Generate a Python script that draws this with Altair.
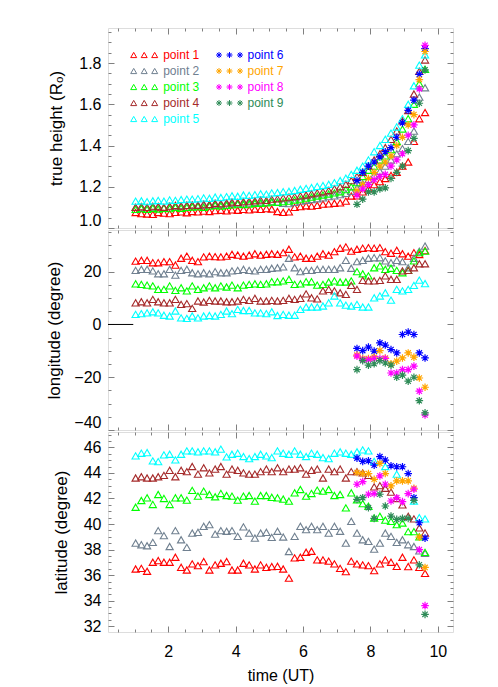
import altair as alt
import pandas as pd

# ---------------- data ----------------
SERIES_TRI = ["point 1", "point 2", "point 3", "point 4", "point 5"]
SERIES_STAR = ["point 6", "point 7", "point 8", "point 9"]
COLORS_TRI = ["#ff0000", "#708090", "#00ff00", "#a52a2a", "#00ffff"]
COLORS_STAR = ["#0000ff", "#ffa500", "#ff00ff", "#2e8b57"]

TIMES = [1.03, 1.20, 1.37, 1.54, 1.70, 1.87, 2.04, 2.21, 2.38, 2.55,
         2.71, 2.88, 3.05, 3.22, 3.39, 3.56, 3.73, 3.89, 4.06, 4.23,
         4.40, 4.57, 4.74, 4.91, 5.07, 5.24, 5.41, 5.58, 5.75, 5.92,
         6.09, 6.25, 6.42, 6.59, 6.76, 6.93, 7.10, 7.27, 7.43, 7.60,
         7.77, 7.94, 8.11, 8.28, 8.44, 8.61, 8.78, 8.95, 9.12, 9.29,
         9.45, 9.62]
STAR_TIMES = [7.60, 7.77, 7.94, 8.11, 8.28, 8.44, 8.61, 8.78, 8.95, 9.12,
              9.29, 9.45, 9.62]

# true height (R_sun)
HEIGHT_P1 = [1.075, 1.070, 1.068, 1.066, 1.075, 1.072, 1.070, 1.076, 1.078, 1.074,
             1.080, 1.078, 1.082, 1.080, 1.084, 1.086, 1.083, 1.088, 1.086, 1.090,
             1.088, 1.092, 1.090, 1.094, 1.092, 1.080, 1.076, 1.078, 1.100, 1.104,
             1.108, 1.106, 1.110, 1.116, 1.117, 1.120, 1.122, 1.130, 1.155, 1.156,
             1.175, 1.190, 1.210, 1.225, 1.240, 1.255, 1.270, 1.300, 1.320, 1.420,
             1.530, 1.560]
HEIGHT_P2 = [1.100, 1.098, 1.100, 1.102, 1.104, 1.100, 1.104, 1.106, 1.108, 1.110,
             1.110, 1.112, 1.110, 1.114, 1.116, 1.114, 1.118, 1.120, 1.118, 1.122,
             1.122, 1.124, 1.126, 1.124, 1.128, 1.126, 1.120, 1.118, 1.124, 1.130,
             1.134, 1.138, 1.142, 1.146, 1.152, 1.156, 1.162, 1.168, 1.178, 1.195,
             1.215, 1.235, 1.255, 1.275, 1.300, 1.330, 1.360, 1.385, 1.420, 1.470,
             1.635, 1.680]
HEIGHT_P3 = [1.090, 1.094, 1.090, 1.096, 1.092, 1.096, 1.094, 1.100, 1.096, 1.100,
             1.102, 1.104, 1.100, 1.106, 1.110, 1.106, 1.110, 1.112, 1.116, 1.114,
             1.116, 1.120, 1.120, 1.122, 1.126, 1.124, 1.128, 1.130, 1.136, 1.140,
             1.145, 1.150, 1.155, 1.160, 1.165, 1.170, 1.176, 1.186, 1.200, 1.220,
             1.250, 1.280, 1.300, 1.330, 1.350, 1.380, 1.420, 1.480, 1.530, 1.600,
             1.700, 1.770]
HEIGHT_P4 = [1.100, 1.104, 1.100, 1.106, 1.104, 1.100, 1.106, 1.110, 1.106, 1.110,
             1.112, 1.110, 1.116, 1.114, 1.120, 1.118, 1.122, 1.126, 1.124, 1.128,
             1.130, 1.132, 1.136, 1.134, 1.140, 1.142, 1.146, 1.150, 1.152, 1.156,
             1.160, 1.166, 1.170, 1.176, 1.182, 1.190, 1.200, 1.212, 1.230, 1.250,
             1.270, 1.300, 1.330, 1.360, 1.390, 1.430, 1.470, 1.520, 1.570, 1.650,
             1.760, 1.815]
HEIGHT_P5 = [1.130, 1.132, 1.128, 1.132, 1.134, 1.130, 1.136, 1.134, 1.138, 1.140,
             1.140, 1.142, 1.146, 1.144, 1.150, 1.148, 1.152, 1.156, 1.154, 1.160,
             1.158, 1.162, 1.166, 1.164, 1.170, 1.172, 1.176, 1.178, 1.182, 1.188,
             1.192, 1.196, 1.202, 1.206, 1.212, 1.220, 1.230, 1.242, 1.260, 1.280,
             1.300, 1.330, 1.370, 1.400, 1.430, 1.460, 1.490, 1.530, 1.600, 1.690,
             1.790, 1.840]
HEIGHT_P6 = [1.230, 1.270, 1.300, 1.320, 1.345, 1.370, 1.390, 1.440, 1.510, 1.570, 1.620, 1.745, 1.870]
HEIGHT_P7 = [1.180, 1.210, 1.240, 1.270, 1.300, 1.320, 1.350, 1.400, 1.440, 1.500, 1.550, 1.720, 1.856]
HEIGHT_P8 = [1.160, 1.190, 1.210, 1.235, 1.250, 1.260, 1.300, 1.330, 1.360, 1.450, 1.500, 1.675, 1.886]
HEIGHT_P9 = [1.115, 1.140, 1.175, 1.175, 1.190, 1.195, 1.240, 1.270, 1.300, 1.375, 1.435, 1.605, 1.767]

# longitude (degree)
LON_P1 = [24.0, 24.3, 24.3, 23.4, 23.4, 23.8, 23.8, 22.5, 25.1, 25.9,
          24.3, 23.8, 25.6, 25.9, 25.7, 25.6, 25.9, 26.6, 26.3, 25.9,
          26.3, 26.8, 26.3, 26.6, 26.8, 26.6, 27.2, 28.5, 25.6, 25.9,
          25.1, 25.1, 25.9, 26.8, 26.3, 27.6, 28.9, 29.4, 27.8, 28.5,
          28.9, 29.1, 28.9, 29.1, 27.6, 27.0, 28.1, 26.8, 25.9, 27.2,
          26.5, 28.0]
LON_P2 = [20.5, 20.9, 20.9, 20.3, 19.2, 19.2, 20.9, 18.7, 20.5, 20.9,
          19.6, 19.2, 19.6, 19.2, 20.0, 19.6, 19.6, 20.3, 20.5, 20.9,
          20.5, 20.3, 20.9, 20.9, 21.3, 21.5, 21.8, 25.1, 21.5, 20.0,
          20.5, 20.5, 20.9, 20.9, 20.9, 20.9, 21.5, 24.3, 21.3, 23.8,
          24.3, 25.1, 25.3, 25.3, 24.1, 23.4, 24.3, 23.8, 21.5, 25.1,
          27.8, 29.7]
LON_P3 = [15.4, 15.2, 14.9, 14.6, 13.3, 13.3, 14.6, 12.9, 13.9, 12.7,
          14.6, 13.3, 13.9, 14.6, 13.9, 14.6, 14.2, 14.9, 13.9, 14.9,
          15.2, 15.4, 15.2, 15.4, 16.2, 16.2, 16.5, 17.1, 15.2, 15.4,
          16.2, 16.2, 14.9, 15.2, 16.1, 16.5, 16.1, 16.1, 16.5, 20.0,
          19.2, 18.4, 21.5, 22.2, 20.9, 21.3, 20.5, 19.6, 20.5, 24.1,
          27.2, 27.8]
LON_P4 = [8.2, 8.6, 8.2, 9.5, 8.6, 8.2, 8.2, 9.5, 7.6, 7.9,
          6.1, 8.9, 8.5, 9.1, 8.9, 8.9, 8.6, 8.6, 8.9, 9.5,
          9.1, 9.9, 8.9, 8.9, 9.1, 8.9, 9.1, 9.9, 9.5, 9.9,
          11.6, 10.1, 9.7, 12.7, 13.3, 12.7, 12.0, 11.4, 14.8, 13.3,
          16.7, 16.5, 16.5, 16.7, 18.4, 17.1, 17.1, 20.3, 20.5, 21.5,
          23.0, 23.0]
LON_P5 = [3.8, 4.1, 4.4, 4.8, 4.4, 3.5, 3.2, 5.1, 2.5, 2.3,
          3.2, 2.5, 3.2, 3.4, 3.2, 3.8, 5.1, 4.1, 5.7, 5.3,
          5.3, 4.4, 4.4, 4.1, 4.8, 3.4, 3.8, 3.5, 3.5, 5.7,
          6.6, 6.6, 6.6, 7.0, 8.2, 10.8, 8.2, 7.3, 7.0, 7.6,
          6.6, 6.6, 10.1, 10.8, 12.0, 9.2, 13.3, 12.7, 13.3, 14.8,
          16.8, 15.5]
LON_P6 = [-9.1, -9.9, -8.6, -10.1, -7.0, -7.8, -9.5, -10.8, -3.8, -2.9, -3.8, -10.8, -12.7]
LON_P7 = [-11.6, -12.9, -12.9, -12.4, -9.9, -12.7, -14.9, -13.9, -12.7, -10.8, -12.4, -20.3, -23.8]
LON_P8 = [-12.0, -13.3, -13.3, -12.9, -12.9, -12.9, -18.4, -18.4, -17.1, -17.1, -15.8, -25.3, -34.3]
LON_P9 = [-17.1, -13.7, -15.4, -14.9, -13.7, -14.6, -15.4, -20.0, -19.2, -21.5, -20.0, -28.9, -33.5]
ZERO_LINE_T = [0.21, 0.96]

# latitude (degree)
LAT_P1 = [36.48, 36.53, 36.30, 37.01, 37.14, 37.01, 37.01, 37.40, 36.61, 36.40,
          36.88, 36.74, 37.06, 36.40, 36.80, 36.93, 37.06, 36.40, 36.40, 36.93,
          36.80, 36.48, 36.80, 36.61, 36.67, 36.69, 36.48, 35.77, 37.35, 37.40,
          37.79, 37.87, 37.19, 37.19, 37.09, 36.88, 36.53, 36.27, 37.09, 36.88,
          36.80, 36.74, 36.35, 36.88, 37.19, 37.01, 36.69, 37.40, 36.67, 37.19,
          36.61, 36.14]
LAT_P2 = [38.51, 38.38, 38.30, 38.56, 39.48, 39.09, 38.24, 39.48, 38.77, 38.17,
          39.29, 39.35, 39.82, 39.95, 39.21, 39.48, 39.43, 39.48, 39.03, 39.77,
          39.29, 38.90, 39.29, 39.35, 38.95, 39.43, 38.98, 37.85, 39.03, 39.82,
          39.56, 39.82, 39.56, 39.82, 39.29, 39.82, 39.43, 38.51, 40.21, 39.29,
          38.77, 38.64, 38.03, 38.51, 39.29, 39.03, 38.56, 38.77, 38.38, 38.24,
          37.90, 37.70]
LAT_P3 = [41.31, 41.84, 42.05, 41.53, 42.31, 42.00, 41.53, 42.05, 42.05, 41.87,
          42.63, 42.18, 42.57, 42.31, 42.13, 42.39, 42.23, 42.18, 41.87, 42.18,
          42.23, 41.79, 42.23, 42.23, 42.09, 42.05, 41.95, 41.79, 42.44, 42.70,
          42.18, 42.39, 42.65, 42.57, 42.70, 42.23, 42.31, 41.26, 42.44, 41.90,
          41.60, 41.39, 40.47, 40.60, 40.30, 40.21, 39.95, 40.08, 39.40, 39.40,
          39.00, 37.78]
LAT_P4 = [43.6, 43.7, 43.6, 43.6, 43.7, 43.8, 44.2, 43.7, 44.2, 44.1,
          44.5, 43.9, 44.4, 44.0, 44.3, 44.5, 43.9, 44.3, 44.2, 44.0,
          43.9, 43.9, 44.1, 44.3, 44.1, 44.4, 44.1, 44.3, 44.3, 44.4,
          43.9, 44.2, 44.3, 43.6, 44.3, 44.1, 44.3, 43.6, 44.1, 44.1,
          44.0, 43.8, 42.9, 43.0, 42.8, 42.5, 42.0, 41.5, 40.6, 40.4,
          39.7, 39.3]
LAT_P5 = [45.33, 45.54, 45.59, 44.94, 44.88, 45.41, 45.46, 45.02, 45.46, 45.72,
          45.72, 45.65, 45.72, 45.72, 45.65, 45.86, 45.25, 45.46, 45.54, 45.28,
          45.12, 45.28, 45.46, 45.33, 45.20, 45.72, 45.54, 45.46, 45.72, 45.46,
          45.28, 45.54, 45.46, 45.20, 45.12, 45.54, 45.65, 45.54, 45.46, 45.65,
          45.80, 45.72, 44.90, None, 44.50, None, 43.90, None, None, 41.80,
          40.50, 40.40]
LAT_P6 = [45.16, 44.90, 44.95, 44.60, 45.27, 45.00, 44.56, 44.48, 44.48, 43.95, 42.06, 40.10, 38.90]
LAT_P7 = [44.03, 43.95, 43.95, 43.50, 44.74, 43.95, 42.98, 43.38, 43.38, 43.38, 42.80, 38.97, 36.60]
LAT_P8 = [43.11, 43.32, 42.33, 42.38, 43.77, 43.11, 41.80, 42.06, 41.75, 42.38, 42.72, 37.99, 33.61]
LAT_P9 = [41.93, 42.06, 41.28, 40.44, 42.33, 41.41, 40.62, 40.36, 40.44, 40.44, 41.85, 36.81, 32.93]

# axis tick values
X_TICKS = [0.5, 1.0, 1.5, 2.0, 2.5, 3.0, 3.5, 4.0, 4.5, 5.0,
           5.5, 6.0, 6.5, 7.0, 7.5, 8.0, 8.5, 9.0, 9.5, 10.0]
X_LABELS = [2, 4, 6, 8, 10]
H_TICKS = [1.0, 1.05, 1.1, 1.15, 1.2, 1.25, 1.3, 1.35, 1.4, 1.45,
           1.5, 1.55, 1.6, 1.65, 1.7, 1.75, 1.8, 1.85, 1.9, 1.95]
H_LABELS = [1.0, 1.2, 1.4, 1.6, 1.8]
LON_TICKS = [-40, -35, -30, -25, -20, -15, -10, -5, 0, 5, 10, 15, 20, 25, 30, 35]
LON_LABELS = [-40, -20, 0, 20]
LAT_TICKS = [32, 32.5, 33, 33.5, 34, 34.5, 35, 35.5, 36, 36.5, 37, 37.5, 38, 38.5,
             39, 39.5, 40, 40.5, 41, 41.5, 42, 42.5, 43, 43.5, 44, 44.5, 45, 45.5,
             46, 46.5, 47]
LAT_LABELS = [32, 34, 36, 38, 40, 42, 44, 46]

# ---------------- helpers ----------------
W, H = 345, 200
X_DOMAIN = [0.21, 10.45]
FONT = "Liberation Sans"
FRAME = "#808080"
STAR_PATH = "M-1,0L1,0M0,-1L0,1M-0.7,-0.7L0.7,0.7M-0.7,0.7L0.7,-0.7"


def tri3_path():
    parts = []
    for c in (-3.5, 0.0, 3.5):
        parts.append(f"M{c},-0.866L{c - 1},0.866L{c + 1},0.866Z")
    return "".join(parts)


def star3_path():
    parts = []
    for c in (-3.5, 0.0, 3.5):
        parts.append(f"M{c - 1},0L{c + 1},0M{c},-1L{c},1"
                     f"M{c - 0.7},-0.7L{c + 0.7},0.7M{c - 0.7},0.7L{c + 0.7},-0.7")
    return "".join(parts)


def long_frame(times, names, lists):
    rows = []
    for name, vals in zip(names, lists):
        for t, v in zip(times, vals):
            if v is not None:
                rows.append({"time": t, "value": v, "series": name})
    return pd.DataFrame(rows)


def color_expr(names, colors):
    c = ",".join(f"'{x}'" for x in colors)
    n = ",".join(f"'{x}'" for x in names)
    return f"[{c}][indexof([{n}], datum.value)]"


def tick_axis(orient, offset, values, test):
    return alt.Axis(orient=orient, offset=offset, values=values, labels=False,
                    domain=False, grid=False, ticks=True, title=None,
                    tickColor=FRAME, tickWidth=1, minExtent=0, maxExtent=0,
                    tickSize={"condition": {"test": test, "value": 6}, "value": 3})


def panel(df_tri, df_star, y_title, y_domain, y_labels, y_ticks, y_test, y_format,
          title_pad, bottom, legends, extra=None):
    xs = alt.Scale(domain=X_DOMAIN, nice=False, zero=False)
    ys = alt.Scale(domain=y_domain, nice=False, zero=False)
    if bottom:
        x_axis = alt.Axis(orient="bottom", title="time (UT)", values=X_LABELS, format="d",
                          ticks=False, tickSize=0, domain=False, grid=False,
                          labelPadding=11, titlePadding=8, labelFontSize=16,
                          titleFontSize=16, labelFont=FONT, titleFont=FONT,
                          titleFontWeight="normal", labelColor="black", titleColor="black")
    else:
        x_axis = None
    y_axis = alt.Axis(orient="left", title=y_title, values=y_labels, format=y_format,
                      ticks=False, tickSize=0, domain=False, grid=False, labelFlush=True,
                      labelPadding=7, titlePadding=title_pad, minExtent=30, maxExtent=30,
                      labelFontSize=16, titleFontSize=17, labelFont=FONT, titleFont=FONT,
                      titleFontWeight="normal", labelColor="black", titleColor="black")

    if legends:
        leg_tri = alt.Legend(title=None, orient="none", legendX=30.2, legendY=21,
                             symbolType=tri3_path(), symbolSize=36, symbolStrokeWidth=1,
                             labelFontSize=12, labelFont=FONT, labelOffset=13,
                             rowPadding=4, padding=0, direction="vertical",
                             labelColor=alt.ExprRef(expr=color_expr(SERIES_TRI, COLORS_TRI)))
        leg_star = alt.Legend(title=None, orient="none", legendX=115.5, legendY=21,
                              symbolType=star3_path(), symbolSize=36, symbolStrokeWidth=1,
                              labelFontSize=12, labelFont=FONT, labelOffset=12,
                              rowPadding=4, padding=0, direction="vertical",
                              labelColor=alt.ExprRef(expr=color_expr(SERIES_STAR, COLORS_STAR)))
    else:
        leg_tri = None
        leg_star = None

    tri = alt.Chart(df_tri).mark_point(shape="triangle-up", filled=False, size=52,
                                       strokeWidth=1.1, opacity=1).encode(
        x=alt.X("time:Q", scale=xs, axis=x_axis),
        y=alt.Y("value:Q", scale=ys, axis=y_axis),
        color=alt.Color("series:N", scale=alt.Scale(domain=SERIES_TRI, range=COLORS_TRI),
                        legend=leg_tri),
    )
    star = alt.Chart(df_star).mark_point(shape=STAR_PATH, filled=False, size=58,
                                         strokeWidth=1.2, opacity=1).encode(
        x=alt.X("time:Q", scale=xs, axis=None),
        y=alt.Y("value:Q", scale=ys, axis=None),
        color=alt.Color("series:N", scale=alt.Scale(domain=SERIES_STAR, range=COLORS_STAR),
                        legend=leg_star),
    )
    x_test = "abs(datum.value % 2) < 0.001"
    ticks_a = alt.Chart(df_tri).mark_point(opacity=0).encode(
        x=alt.X("time:Q", scale=xs, axis=tick_axis("top", -H, X_TICKS, x_test)),
        y=alt.Y("value:Q", scale=ys, axis=tick_axis("right", -W, y_ticks, y_test)),
    )
    ticks_b = alt.Chart(df_tri).mark_point(opacity=0).encode(
        x=alt.X("time:Q", scale=xs, axis=tick_axis("bottom", -H, X_TICKS, x_test)),
        y=alt.Y("value:Q", scale=ys, axis=tick_axis("left", -W, y_ticks, y_test)),
    )
    layers = [ticks_a, ticks_b]
    if extra is not None:
        layers.append(extra(xs, ys))
    layers += [tri, star]
    return alt.layer(*layers).resolve_scale(color="independent").resolve_axis(
        x="independent", y="independent").properties(width=W, height=H)


def zero_line(xs, ys):
    df = pd.DataFrame({"t0": [ZERO_LINE_T[0]], "t1": [ZERO_LINE_T[1]], "v": [0]})
    return alt.Chart(df).mark_rule(color="black", strokeWidth=1).encode(
        x=alt.X("t0:Q", scale=xs, axis=None), x2="t1:Q",
        y=alt.Y("v:Q", scale=ys, axis=None))


tri_h = long_frame(TIMES, SERIES_TRI, [HEIGHT_P1, HEIGHT_P2, HEIGHT_P3, HEIGHT_P4, HEIGHT_P5])
star_h = long_frame(STAR_TIMES, SERIES_STAR, [HEIGHT_P6, HEIGHT_P7, HEIGHT_P8, HEIGHT_P9])
tri_lon = long_frame(TIMES, SERIES_TRI, [LON_P1, LON_P2, LON_P3, LON_P4, LON_P5])
star_lon = long_frame(STAR_TIMES, SERIES_STAR, [LON_P6, LON_P7, LON_P8, LON_P9])
tri_lat = long_frame(TIMES, SERIES_TRI, [LAT_P1, LAT_P2, LAT_P3, LAT_P4, LAT_P5])
star_lat = long_frame(STAR_TIMES, SERIES_STAR, [LAT_P6, LAT_P7, LAT_P8, LAT_P9])

p1 = panel(tri_h, star_h, "true height (R\u2092)", [1.0, 1.97], H_LABELS, H_TICKS,
           "abs(datum.value * 5 - round(datum.value * 5)) < 0.001", ".1f", 13, False, True)
p2 = panel(tri_lon, star_lon, "longitude (degree)", [-40, 35.8], LON_LABELS, LON_TICKS,
           "abs(datum.value % 20) < 0.001", "d", 15, False, False, extra=zero_line)
p3 = panel(tri_lat, star_lat, "latitude (degree)", [31.55, 47.2], LAT_LABELS, LAT_TICKS,
           "abs(datum.value % 2) < 0.001", "d", 8, True, False)

chart = alt.vconcat(p1, p2, p3, spacing=2, bounds="flush").resolve_scale(
    color="independent").properties(
    padding={"left": 36, "top": 19, "right": 5, "bottom": 0}
).configure_view(stroke=FRAME, strokeWidth=1.2).configure(background="white")

chart.save("out.html", embed_options={"renderer": "svg", "actions": False})
